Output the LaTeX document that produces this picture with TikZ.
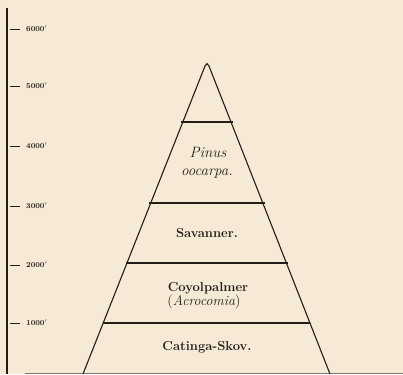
\documentclass[tikz,border=0pt]{standalone}
\usepackage{fontspec}
\definecolor{paper}{HTML}{F6EAD6}
\definecolor{ink}{HTML}{221D18}
\begin{document}
\begin{tikzpicture}[x=1pt,y=-1pt,
  ink line/.style={draw=ink,line width=1.1pt},
  band/.style={draw=ink,line width=1.5pt},
  tick/.style={draw=ink,line width=0.9pt},
  alt/.style={anchor=west,inner sep=0pt,text=ink,font=\fontsize{7.5}{8}\selectfont\bfseries},
  zone/.style={anchor=base,inner sep=0pt,text=ink,font=\fontsize{13}{15}\selectfont\bfseries},
  izone/.style={anchor=base,inner sep=0pt,text=ink,font=\fontsize{15}{17}\selectfont\itshape}]
\fill[paper] (0,0) rectangle (403,374);
\useasboundingbox (0,0) rectangle (403,374);
% axis
\draw[draw=ink,line width=1.6pt] (7,8) -- (7,374);
\foreach \y/\t in {29/6000,86/5000,146/4000,206/3000,265/2000,323/1000}{
  \draw[tick] (10,\y) -- (20,\y);
  \node[alt] (a\t) at (26,\y) {\t$'$};
}
% ground line
\draw[draw=ink!60,line width=0.8pt] (25,373.5) -- (403,373.5);
% mountain
\draw[ink line,rounded corners=5pt] (83,374) -- (207,61) -- (330,374);
% bands
\draw[band] (181,122) -- (233,122);
\draw[band] (149,203) -- (265,203);
\draw[band] (126,263) -- (288,263);
\draw[band] (103,323) -- (310,323);
% labels
\node[izone] (pinus) at (208,157) {Pinus};
\node[izone] (oocarpa) at (207,175) {oocarpa.};
\node[zone] (sav) at (207,237) {Savanner.};
\node[zone] (coyol) at (208,291) {Coyolpalmer};
\node[zone,font=\fontsize{14}{16}\selectfont] (acro) at (204,305) {(\textit{Acrocomia})};
\node[zone] (cat) at (207,350) {Catinga-Skov.};
\end{tikzpicture}
\end{document}
